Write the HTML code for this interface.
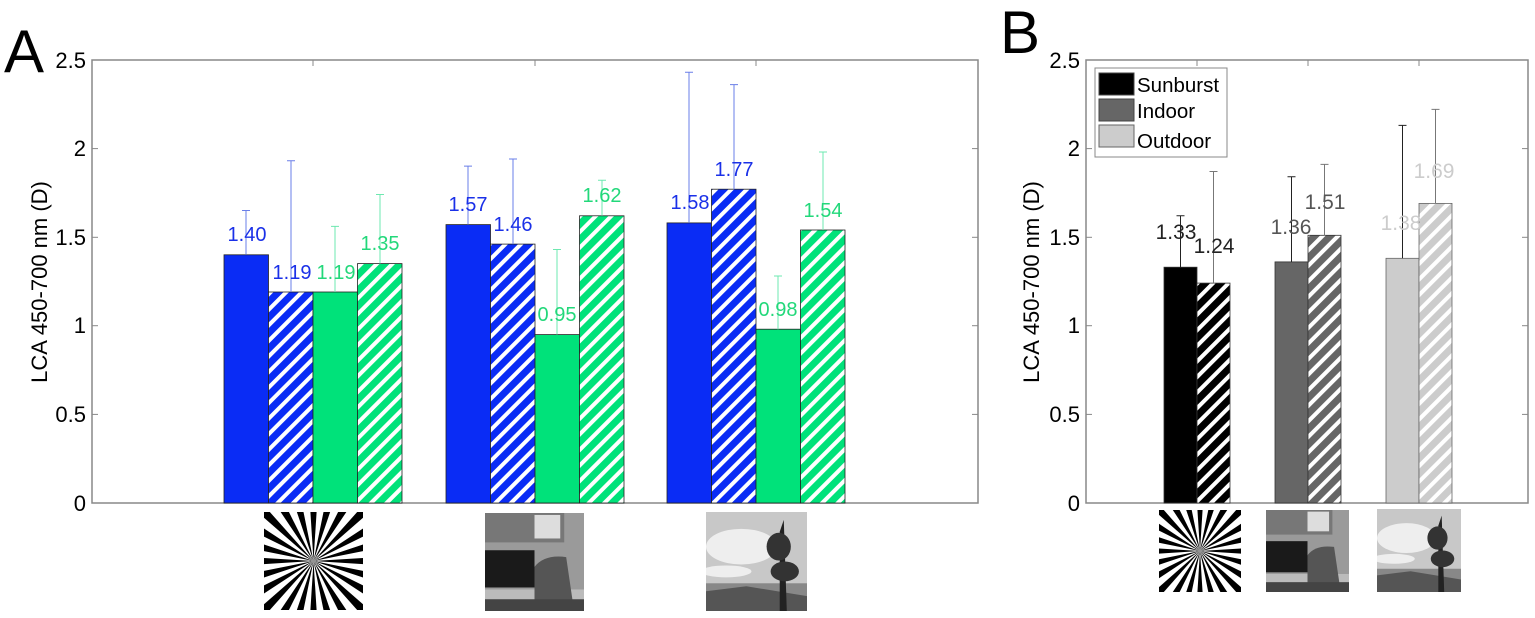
<!DOCTYPE html>
<html><head><meta charset="utf-8"><style>
html,body{margin:0;padding:0;background:#fff}
svg{display:block}
text{font-family:"Liberation Sans",Arial,sans-serif}
</style></head><body>
<svg width="1535" height="618" viewBox="0 0 1535 618" xmlns="http://www.w3.org/2000/svg">
<defs>
<pattern id="hb" width="11" height="11" patternUnits="userSpaceOnUse" patternTransform="rotate(45)"><rect width="11" height="11" fill="#0a2cf5"/><rect x="0" width="4" height="11" fill="#fff"/></pattern>
<pattern id="hg" width="11" height="11" patternUnits="userSpaceOnUse" patternTransform="rotate(45)"><rect width="11" height="11" fill="#00e27a"/><rect x="0" width="4" height="11" fill="#fff"/></pattern>
<pattern id="hk" width="11" height="11" patternUnits="userSpaceOnUse" patternTransform="rotate(45)"><rect width="11" height="11" fill="#000"/><rect x="0" width="4" height="11" fill="#fff"/></pattern>
<pattern id="hd" width="11" height="11" patternUnits="userSpaceOnUse" patternTransform="rotate(45)"><rect width="11" height="11" fill="#666"/><rect x="0" width="4" height="11" fill="#fff"/></pattern>
<pattern id="hl" width="11" height="11" patternUnits="userSpaceOnUse" patternTransform="rotate(45)"><rect width="11" height="11" fill="#ccc"/><rect x="0" width="4" height="11" fill="#fff"/></pattern>
<symbol id="sun" viewBox="-50 -50 100 100" preserveAspectRatio="none">
<rect x="-50" y="-50" width="100" height="100" fill="#fff"/>
<g fill="#000">
<path d="M0 0 L80 -5 L80 5Z"/><path d="M0 0 L80 -5 L80 5Z" transform="rotate(15)"/><path d="M0 0 L80 -5 L80 5Z" transform="rotate(30)"/><path d="M0 0 L80 -5 L80 5Z" transform="rotate(45)"/><path d="M0 0 L80 -5 L80 5Z" transform="rotate(60)"/><path d="M0 0 L80 -5 L80 5Z" transform="rotate(75)"/><path d="M0 0 L80 -5 L80 5Z" transform="rotate(90)"/><path d="M0 0 L80 -5 L80 5Z" transform="rotate(105)"/><path d="M0 0 L80 -5 L80 5Z" transform="rotate(120)"/><path d="M0 0 L80 -5 L80 5Z" transform="rotate(135)"/><path d="M0 0 L80 -5 L80 5Z" transform="rotate(150)"/><path d="M0 0 L80 -5 L80 5Z" transform="rotate(165)"/><path d="M0 0 L80 -5 L80 5Z" transform="rotate(180)"/><path d="M0 0 L80 -5 L80 5Z" transform="rotate(195)"/><path d="M0 0 L80 -5 L80 5Z" transform="rotate(210)"/><path d="M0 0 L80 -5 L80 5Z" transform="rotate(225)"/><path d="M0 0 L80 -5 L80 5Z" transform="rotate(240)"/><path d="M0 0 L80 -5 L80 5Z" transform="rotate(255)"/><path d="M0 0 L80 -5 L80 5Z" transform="rotate(270)"/><path d="M0 0 L80 -5 L80 5Z" transform="rotate(285)"/><path d="M0 0 L80 -5 L80 5Z" transform="rotate(300)"/><path d="M0 0 L80 -5 L80 5Z" transform="rotate(315)"/><path d="M0 0 L80 -5 L80 5Z" transform="rotate(330)"/><path d="M0 0 L80 -5 L80 5Z" transform="rotate(345)"/>
</g></symbol>
<symbol id="ind" viewBox="0 0 100 100" preserveAspectRatio="none">
<rect width="100" height="100" fill="#9a9a9a"/><rect width="80" height="30" fill="#777"/><rect x="50" y="2" width="26" height="24" fill="#ddd"/>
<rect x="0" y="38" width="50" height="38" fill="#1a1a1a"/><rect x="0" y="78" width="100" height="22" fill="#bbb"/>
<path d="M50 100 L50 55 Q60 42 82 45 L90 100Z" fill="#555"/><rect x="0" y="88" width="100" height="12" fill="#444"/>
</symbol>
<symbol id="out" viewBox="0 0 100 100" preserveAspectRatio="none">
<rect width="100" height="100" fill="#c8c8c8"/><ellipse cx="35" cy="35" rx="35" ry="18" fill="#eee"/><ellipse cx="20" cy="60" rx="25" ry="6" fill="#eee"/>
<rect y="72" width="100" height="28" fill="#888"/><path d="M0 80 L40 75 L100 85 L100 100 L0 100Z" fill="#555"/>
<path d="M73 100 L73 20 L77 8 L80 100Z" fill="#222"/><ellipse cx="72" cy="35" rx="12" ry="14" fill="#333"/><ellipse cx="78" cy="60" rx="14" ry="10" fill="#333"/>
</symbol>
</defs>

<!-- Panel A -->
<text x="4" y="72" font-size="60">A</text>
<rect x="92" y="60" width="886" height="443" fill="none" stroke="#888" stroke-width="1.5"/>
<g stroke="#888" stroke-width="1">
<line x1="92" y1="148.6" x2="98" y2="148.6"/><line x1="92" y1="237.3" x2="98" y2="237.3"/><line x1="92" y1="325.7" x2="98" y2="325.7"/><line x1="92" y1="414.4" x2="98" y2="414.4"/>
<line x1="978" y1="148.6" x2="972" y2="148.6"/><line x1="978" y1="237.3" x2="972" y2="237.3"/><line x1="978" y1="325.7" x2="972" y2="325.7"/><line x1="978" y1="414.4" x2="972" y2="414.4"/>
<line x1="313" y1="60" x2="313" y2="66"/><line x1="535" y1="60" x2="535" y2="66"/><line x1="756" y1="60" x2="756" y2="66"/>
</g>
<g font-size="22" text-anchor="end">
<text x="86" y="68">2.5</text><text x="86" y="156">2</text><text x="86" y="245">1.5</text><text x="86" y="333">1</text><text x="86" y="422">0.5</text><text x="86" y="511">0</text>
</g>
<text transform="translate(47,282) rotate(-90)" font-size="22" text-anchor="middle">LCA 450-700 nm (D)</text>
<g stroke="#222" stroke-width="0.8">
<rect x="224" y="254.8" width="44.5" height="248.2" fill="#0a2cf5"/>
<rect x="268.5" y="292" width="44.5" height="211" fill="url(#hb)"/>
<rect x="313" y="292" width="44.5" height="211" fill="#00e27a"/>
<rect x="357.5" y="263.6" width="44.5" height="239.4" fill="url(#hg)"/>
<rect x="446" y="224.6" width="44.5" height="278.4" fill="#0a2cf5"/>
<rect x="490.5" y="244.1" width="44.5" height="258.9" fill="url(#hb)"/>
<rect x="535" y="334.6" width="44.5" height="168.4" fill="#00e27a"/>
<rect x="579.5" y="215.8" width="44.5" height="287.2" fill="url(#hg)"/>
<rect x="667" y="222.9" width="44.5" height="280.1" fill="#0a2cf5"/>
<rect x="711.5" y="189.2" width="44.5" height="313.8" fill="url(#hb)"/>
<rect x="756" y="329.2" width="44.5" height="173.8" fill="#00e27a"/>
<rect x="800.5" y="230" width="44.5" height="273" fill="url(#hg)"/>
</g>
<g stroke-width="1" fill="none">
<path stroke="#6a7fe8" d="M246 254.8V210.5M242 210.5h8M291 292V160.8M287 160.8h8M468 224.6V166.1M464 166.1h8M513 244.1V159M509 159h8M689 222.9V72.2M685 72.2h8M734 189.2V84.6M730 84.6h8"/>
<path stroke="#6ee8b0" d="M335 292V226.4M331 226.4h8M380 263.6V194.5M376 194.5h8M557 334.6V249.5M553 249.5h8M602 215.8V180.3M598 180.3h8M778 329.2V276M774 276h8M823 230V152M819 152h8"/>
</g>
<g font-size="20" text-anchor="middle">
<g fill="#1a30e8"><text x="247" y="241">1.40</text><text x="292" y="279">1.19</text><text x="468" y="211">1.57</text><text x="513" y="231">1.46</text><text x="690" y="209">1.58</text><text x="734" y="176">1.77</text></g>
<g fill="#22d87a"><text x="336" y="279">1.19</text><text x="380" y="250">1.35</text><text x="557" y="321">0.95</text><text x="602" y="202">1.62</text><text x="778" y="316">0.98</text><text x="823" y="217">1.54</text></g>
</g>
<use href="#sun" x="264" y="512" width="99" height="98"/>
<use href="#ind" x="485" y="513" width="99" height="98"/>
<use href="#out" x="706" y="512" width="101" height="99"/>

<!-- Panel B -->
<text x="1000" y="53" font-size="60">B</text>
<rect x="1086" y="60" width="442" height="443" fill="none" stroke="#888" stroke-width="1.5"/>
<g stroke="#888" stroke-width="1">
<line x1="1086" y1="148.6" x2="1092" y2="148.6"/><line x1="1086" y1="237.3" x2="1092" y2="237.3"/><line x1="1086" y1="325.7" x2="1092" y2="325.7"/><line x1="1086" y1="414.4" x2="1092" y2="414.4"/>
<line x1="1528" y1="148.6" x2="1522" y2="148.6"/><line x1="1528" y1="237.3" x2="1522" y2="237.3"/><line x1="1528" y1="325.7" x2="1522" y2="325.7"/><line x1="1528" y1="414.4" x2="1522" y2="414.4"/>
<line x1="1197" y1="60" x2="1197" y2="66"/><line x1="1308" y1="60" x2="1308" y2="66"/><line x1="1419" y1="60" x2="1419" y2="66"/>
</g>
<g font-size="22" text-anchor="end">
<text x="1080" y="68">2.5</text><text x="1080" y="156">2</text><text x="1080" y="245">1.5</text><text x="1080" y="333">1</text><text x="1080" y="422">0.5</text><text x="1080" y="511">0</text>
</g>
<text transform="translate(1039,282) rotate(-90)" font-size="22" text-anchor="middle">LCA 450-700 nm (D)</text>
<g stroke="#333" stroke-width="0.8">
<rect x="1164" y="267.2" width="33" height="235.8" fill="#000"/>
<rect x="1197" y="283.1" width="33" height="219.9" fill="url(#hk)"/>
<rect x="1275" y="261.9" width="33" height="241.1" fill="#666"/>
<rect x="1308" y="235.3" width="33" height="267.7" fill="url(#hd)"/>
<rect x="1386" y="258.3" width="33" height="244.7" fill="#ccc" stroke="#666"/>
<rect x="1419" y="203.4" width="33" height="299.6" fill="url(#hl)" stroke="#666"/>
</g>
<g stroke-width="1" fill="none">
<path stroke="#222" d="M1180.5 267.2V215.8M1176.5 215.8h8M1291.5 261.9V176.8M1287.5 176.8h8M1402.5 258.3V125.4M1398.5 125.4h8"/>
<path stroke="#777" d="M1213.5 283.1V171.5M1209.5 171.5h8M1324.5 235.3V164.4M1320.5 164.4h8M1435.5 203.4V109.4M1431.5 109.4h8"/>
</g>
<g font-size="21" text-anchor="middle">
<text x="1176" y="239" fill="#222">1.33</text><text x="1214" y="253" fill="#222">1.24</text>
<text x="1291" y="234" fill="#555">1.36</text><text x="1325" y="209" fill="#555">1.51</text>
<text x="1401" y="230" fill="#ccc">1.38</text><text x="1434" y="178" fill="#ccc">1.69</text>
</g>
<rect x="1095" y="68" width="132" height="89" fill="#fff" stroke="#888" stroke-width="1"/>
<rect x="1099" y="73" width="35" height="22" fill="#000" stroke="#444"/>
<rect x="1099" y="99" width="35" height="22" fill="#666" stroke="#444"/>
<rect x="1099" y="125" width="35" height="22" fill="#ccc" stroke="#666"/>
<g font-size="20.5"><text x="1137" y="92">Sunburst</text><text x="1137" y="118">Indoor</text><text x="1137" y="148">Outdoor</text></g>
<use href="#sun" x="1159" y="510" width="82" height="82"/>
<use href="#ind" x="1266" y="510" width="83" height="82"/>
<use href="#out" x="1377" y="509" width="84" height="83"/>
</svg>
</body></html>
